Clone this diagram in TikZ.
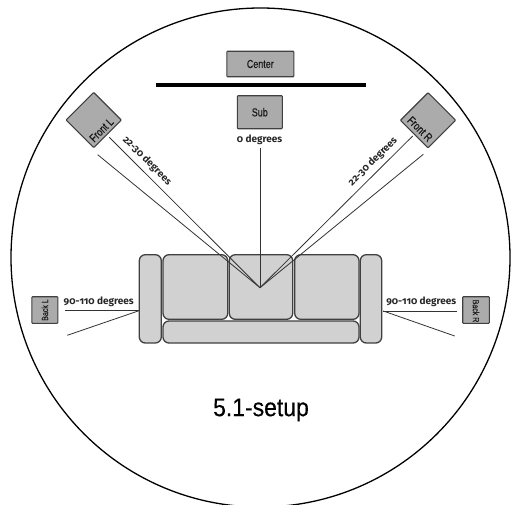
\documentclass[tikz,border=0pt]{standalone}
\usepackage{fontspec}
\setmainfont[Numbers=OldStyle]{Fira Sans}
\newfontfamily\narrowf[FakeStretch=0.78,FakeBold=0.35]{Liberation Sans}
\newfontfamily\titlef[FakeStretch=0.9,FakeBold=0.4]{Liberation Sans}
\begin{document}
\begin{tikzpicture}[x=1pt,y=-1pt,
  speaker/.style={draw=black!75,line width=1.1pt,fill=black!33,rounded corners=0.8pt,inner sep=0pt},
  seat/.style={draw=black!75,line width=1.3pt,fill=black!18,rounded corners=6pt},
  ray/.style={draw=black!80,line width=0.8pt},
  lab/.style={font=\fontsize{10}{11}\selectfont\bfseries,inner sep=0pt,text=black!85},
  spk/.style={font=\narrowf\fontsize{11.5}{12}\selectfont,inner sep=0pt,text=black!90},
  spks/.style={font=\narrowf\fontsize{9}{10}\selectfont,inner sep=0pt,text=black!90}]
\useasboundingbox (0,0) rectangle (513,504);
\begin{scope}
\clip (0,0) rectangle (513,504);
\draw[line width=1.3pt] (260.5,257.5) circle (249.5);
\end{scope}
% wall
\fill[black] (156,82.5) rectangle (366,86.5);
% speakers
\node[speaker,minimum width=67pt,minimum height=25.5pt] (center) at (260.3,64) {};
\node[spk] at (center) {Center};
\node[speaker,minimum width=45pt,minimum height=33pt] (sub) at (259.8,112.2) {};
\node[spk] at (sub) {Sub};
\node[speaker,minimum width=39pt,minimum height=39pt,rotate=45] (fl) at (93.7,120) {};
\node[spk,rotate=45] at (101.5,130) {Front L};
\node[speaker,minimum width=39pt,minimum height=39pt,rotate=-45] (fr) at (428,120.3) {};
\node[spk,rotate=-45] at (420,129) {Front R};
\node[speaker,minimum width=26pt,minimum height=26.6pt] (bl) at (44.8,310) {};
\node[spks,rotate=90] at (44.8,310) {Back L};
\node[speaker,minimum width=26.6pt,minimum height=26.6pt] (br) at (476,310) {};
\node[spks,rotate=-90] at (476,311) {Back R};
% sofa
\draw[seat] (139.3,254.7) rectangle (161.3,343);
\draw[seat] (360.3,254.7) rectangle (381.7,343);
\draw[seat] (163,254.7) rectangle (227.7,319.3);
\draw[seat] (229.3,254.7) rectangle (292.7,319.3);
\draw[seat] (294.7,254.7) rectangle (359,319.3);
\draw[seat] (163,321) rectangle (359,343);
% rays
\coordinate (o) at (260,287.7);
\coordinate (a1) at (109.3,137.3); \coordinate (a2) at (97.7,154.7);
\coordinate (b1) at (412.7,136); \coordinate (b2) at (423.3,154.3);
\coordinate (s) at (260,148);
\draw[ray] (o) -- (a1);
\draw[ray] (o) -- (a2);
\draw[ray] (o) -- (b1);
\draw[ray] (o) -- (b2);
\draw[ray] (o) -- (s);
\coordinate (l0) at (138.7,310.8); \coordinate (l1) at (64.7,310.8); \coordinate (l2) at (67.3,335.3);
\coordinate (r0) at (383.3,311); \coordinate (r1) at (457.3,311); \coordinate (r2) at (454.7,336);
\draw[ray] (l0) -- (l1);
\draw[ray] (l0) -- (l2);
\draw[ray] (r0) -- (r1);
\draw[ray] (r0) -- (r2);
% labels
\node[lab] at (259.5,139.5) {0 degrees};
\node[lab,rotate=-45] (t1) at (147,161) {22-30 degrees};
\node[lab,rotate=45] (t2) at (373,161.7) {22-30 degrees};
\node[lab] (t3) at (98.7,302) {90-110 degrees};
\node[lab] (t4) at (421.3,302) {90-110 degrees};
\node[font=\titlef\fontsize{25.5}{28}\selectfont,inner sep=0pt,text=black] (title) at (261,410) {5.1-setup};
\end{tikzpicture}
\end{document}
